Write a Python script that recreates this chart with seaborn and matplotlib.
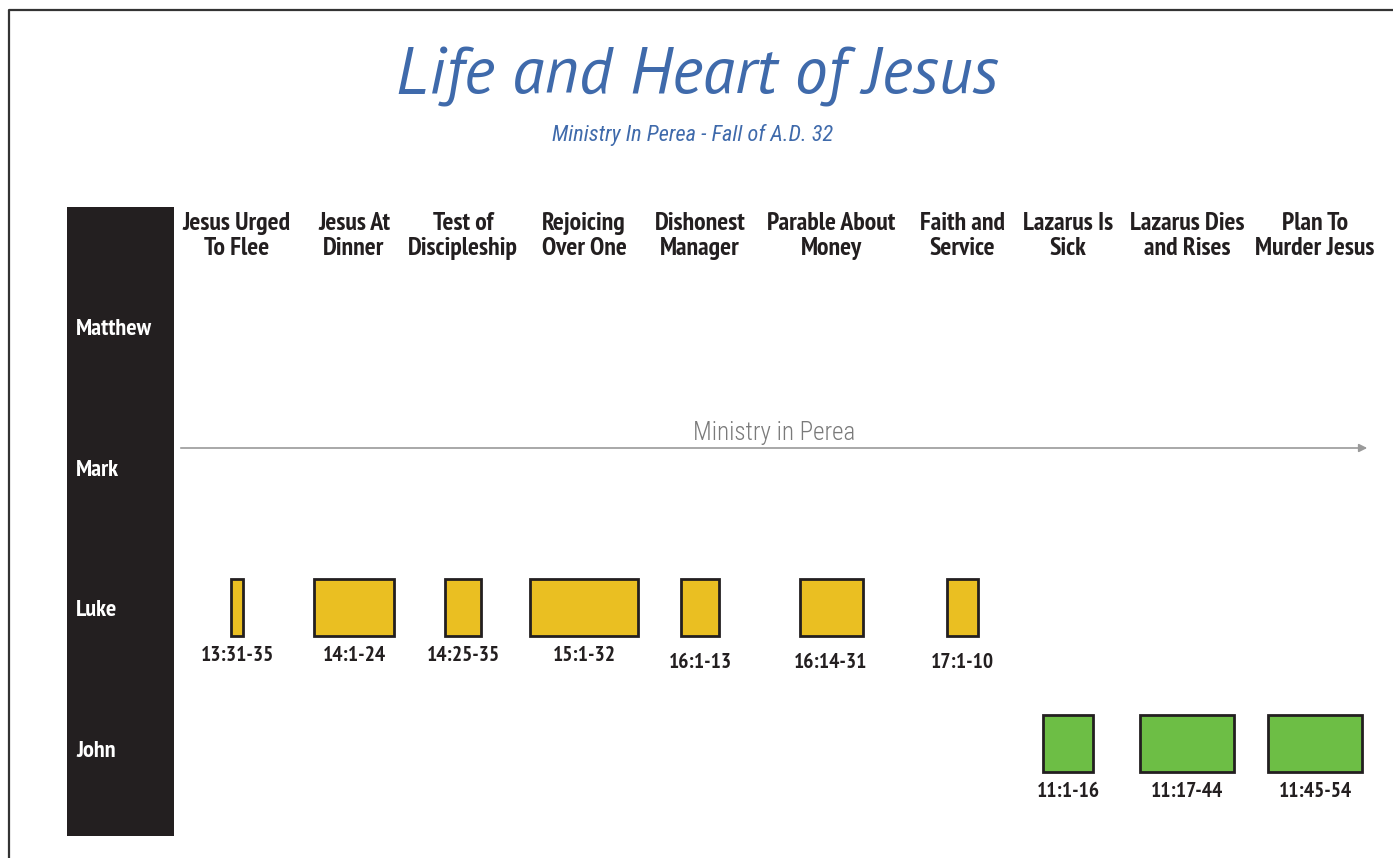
import matplotlib
matplotlib.use("Agg")
import matplotlib.pyplot as plt
import seaborn as sns
import pandas as pd

sns.set_theme(style="white")

# data
gospels = ["Matthew", "Mark", "Luke", "John"]
events = ["Jesus Urged\nTo Flee", "Jesus At\nDinner", "Test of\nDiscipleship",
          "Rejoicing\nOver One", "Dishonest\nManager", "Parable About\nMoney",
          "Faith and\nService", "Lazarus Is\nSick", "Lazarus Dies\nand Rises",
          "Plan To\nMurder Jesus"]
event_x = [237, 354, 463, 584, 700, 831, 962, 1068, 1187, 1315]
event_gospel = ["Luke", "Luke", "Luke", "Luke", "Luke", "Luke", "Luke",
                "John", "John", "John"]
refs = ["13:31-35", "14:1-24", "14:25-35", "15:1-32", "16:1-13", "16:14-31",
        "17:1-10", "11:1-16", "11:17-44", "11:45-54"]
box_span = [12, 80, 36, 108, 38, 63, 31, 50, 94, 94]

period_label = "Ministry in Perea"
period_start, period_end = 178, 1370

df = pd.DataFrame({"event": events, "x": event_x, "gospel": event_gospel,
                   "ref": refs, "span": box_span})
df["row"] = df["gospel"].map({g: i for i, g in enumerate(gospels)})

dark = "#231f20"
blue = "#3f6aab"
colors = {"Luke": "#eabf22", "John": "#6dbe45"}
box_shift = {"Luke": -0.21, "John": -0.242}
narrow = ["PT Sans Narrow", "DejaVu Sans"]

fig = plt.figure(figsize=(13.93, 8.58), dpi=100)
ax = fig.add_axes([0, 0, 1, 1])
ax.set_xlim(0, 1393)
# row index -> vertical position (row 0 at top)
top_px, step_px = 327, 140.7
ax.set_ylim((858 - top_px) / step_px, -top_px / step_px)
ax.axis("off")

def py(p):
    return (p - top_px) / step_px

# frame
ax.plot([9, 9], [4.0, py(10)], color="#333333", lw=1.6, solid_capstyle="butt")
ax.plot([9, 1400], [py(10)] * 2, color="#333333", lw=1.6)

# gospel column
ax.add_patch(plt.Rectangle((67, py(207)), 107, 629 / step_px, color=dark, lw=0))
for i, g in enumerate(gospels):
    ax.text(76, i + 0.018, g, color="white", fontsize=17.5, fontweight="bold",
            family=narrow, ha="left", va="center")

# event headers
for _, r in df.iterrows():
    ax.text(r["x"], py(236), r["event"], ha="center", va="center", fontsize=18.5,
            fontweight="bold", family=narrow, color=dark, linespacing=1.12)

# passage boxes
for g, sub in df.groupby("gospel"):
    ax.bar(sub["x"], 0.405, width=sub["span"], bottom=sub["row"] + box_shift[g],
           color=colors[g], edgecolor=dark, linewidth=2, align="center")
label_off = [0.334, 0.334, 0.334, 0.334, 0.384, 0.384, 0.384, 0.3, 0.3, 0.3]
for (_, r), off in zip(df.iterrows(), label_off):
    ax.text(r["x"], r["row"] + off, r["ref"], ha="center", va="center",
            fontsize=15.5, fontweight="bold", family=narrow, color=dark)

# period arrow
ay = py(448)
ax.annotate("", xy=(period_end, ay), xytext=(period_start, ay),
            arrowprops=dict(arrowstyle="-|>", color="#9a9a9a", lw=1.2,
                            mutation_scale=12))
ax.text((period_start + period_end) / 2, py(433), period_label,
        ha="center", va="center", fontsize=18, color="#7a7a7a",
        family=["Roboto Condensed", "DejaVu Sans"], fontweight="light")

# titles
ax.text(697, py(77), "Life and Heart of Jesus", ha="center",
        va="center", fontsize=47.5, style="italic", color=blue,
        family=["PT Sans", "Liberation Serif"])
ax.text(693, py(135), "Ministry In Perea - Fall of A.D. 32",
        ha="center", va="center", fontsize=16, style="italic", color=blue,
        family=["Roboto Condensed", "DejaVu Sans"])

fig.savefig("out.png", dpi=100, facecolor="white")
